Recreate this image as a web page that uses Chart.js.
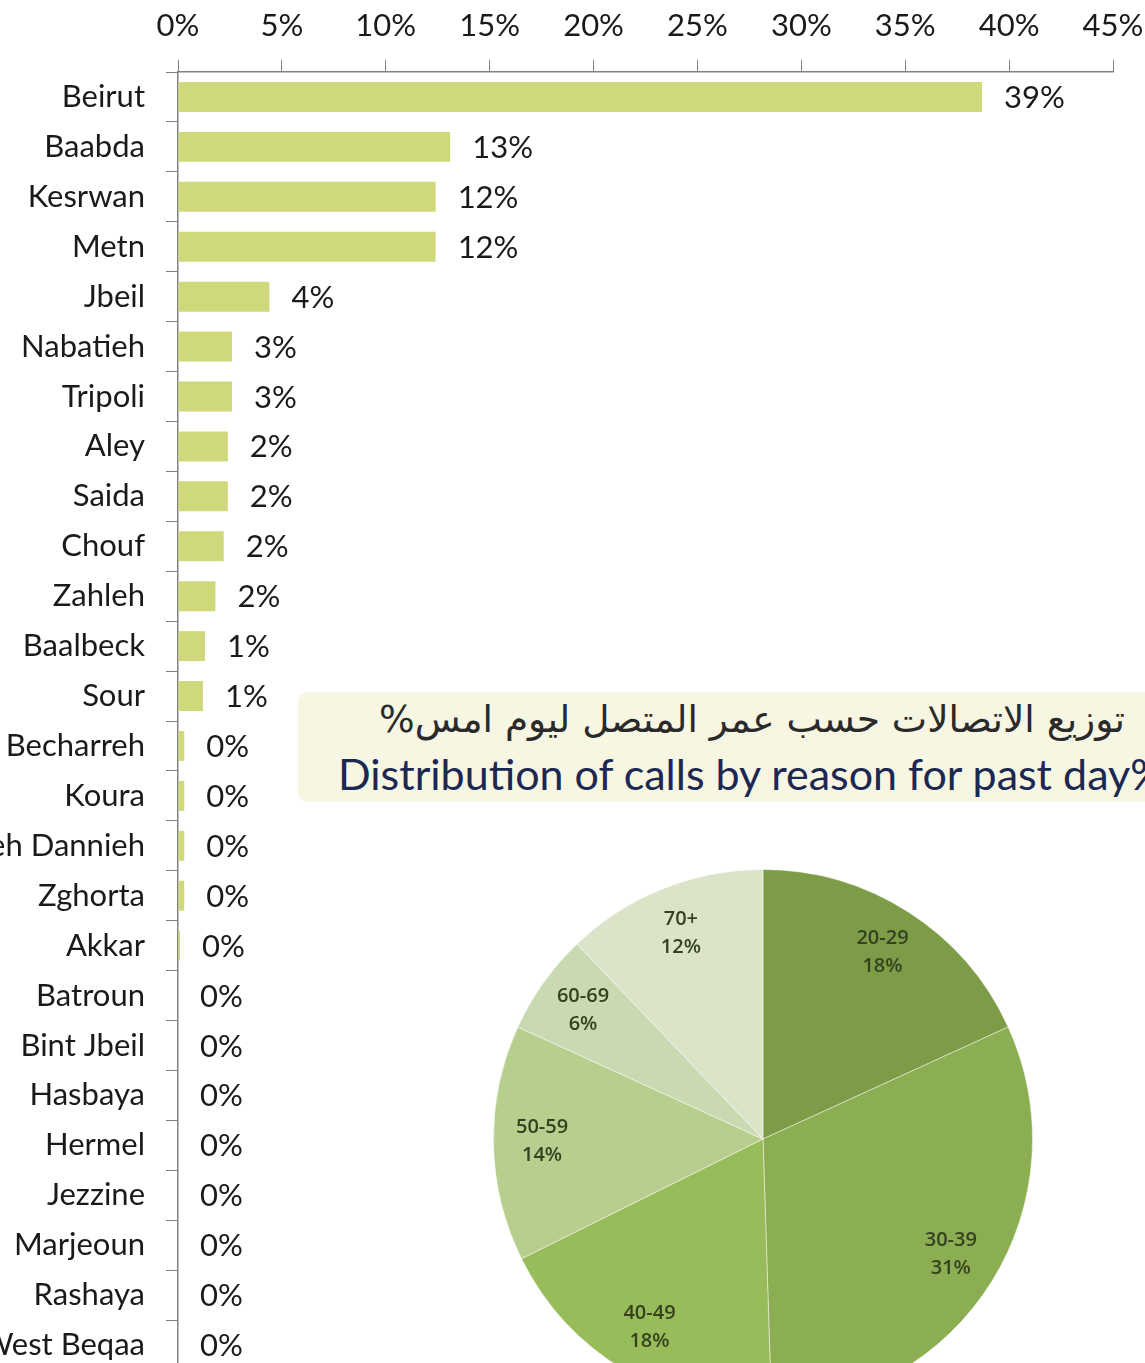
<!DOCTYPE html>
<html>
<head>
<meta charset="utf-8">
<style>
  html, body { margin: 0; padding: 0; background: #fff; overflow: hidden; width: 1145px; height: 1363px; }
  #chartkadaa { position: absolute; left: 0; top: 0; }
  #chartumur { position: absolute; left: 483px; top: 859px; }
  .judul { position: absolute; left: 298px; top: 692px; width: 900px; height: 110px; background: #f6f6e3; border-radius: 10px; }
  .judul .ar { position: absolute; right: 73px; top: 5px; font-family: "DejaVu Sans", sans-serif; font-size: 37.5px; color: #2a2a2a; white-space: nowrap; }
  .judul .en { position: absolute; left: 40px; top: 56px; font-family: Lato, sans-serif; font-size: 43px; color: #1c2852; white-space: nowrap; }
</style>
</head>
<body>
<canvas id="chartkadaa" width="1145" height="1370"></canvas>
<div class="judul">
  <div class="ar" dir="rtl">توزيع الاتصالات حسب عمر المتصل ليوم امس%</div>
  <div class="en">Distribution of calls by reason for past day%</div>
</div>
<canvas id="chartumur" width="560" height="560"></canvas>

<script src="https://cdn.jsdelivr.net/npm/chart.js"></script>
<script>
  var kadaa = ["Beirut", "Baabda", "Kesrwan", "Metn", "Jbeil", "Nabatieh", "Tripoli", "Aley", "Saida", "Chouf", "Zahleh", "Baalbeck", "Sour", "Becharreh", "Koura", "Minieh Dannieh", "Zghorta", "Akkar", "Batroun", "Bint Jbeil", "Hasbaya", "Hermel", "Jezzine", "Marjeoun", "Rashaya", "West Beqaa"];
  var persen = [38.7, 13.1, 12.4, 12.4, 4.4, 2.6, 2.6, 2.4, 2.4, 2.2, 1.8, 1.3, 1.2, 0.3, 0.3, 0.3, 0.3, 0.1, 0, 0, 0, 0, 0, 0, 0, 0];
  var umur = ["20-29", "30-39", "40-49", "50-59", "60-69", "70+"];
  var umurPersen = [18, 31, 18, 14, 6, 12];
  var warnaUmur = ["#7c9c47", "#8cae52", "#99bc5b", "#b6cf8e", "#c9d9b1", "#dbe4c9"];

  var hurufGill = "Lato, 'Open Sans', sans-serif";

  // label angka di ujung bar
  var labelBar = {
    id: "labelBar",
    afterDatasetsDraw: function (chart) {
      var ctx = chart.ctx;
      var meta = chart.getDatasetMeta(0);
      ctx.save();
      ctx.font = "31px " + hurufGill;
      ctx.fillStyle = "#1a1a1a";
      ctx.textBaseline = "middle";
      ctx.textAlign = "left";
      meta.data.forEach(function (bar, i) {
        ctx.fillText(Math.round(persen[i]) + "%", bar.x + 22, bar.y + 1);
      });
      ctx.restore();
    },
  };

  new Chart(document.getElementById("chartkadaa").getContext("2d"), {
    type: "bar",
    data: {
      labels: kadaa,
      datasets: [
        {
          data: persen,
          backgroundColor: "#cfd97b",
          barPercentage: 0.6,
          categoryPercentage: 1,
        },
      ],
    },
    options: {
      indexAxis: "y",
      responsive: false,
      animation: false,
      layout: { padding: { top: 0, right: 32, bottom: 0, left: 0 } },
      plugins: { legend: { display: false }, tooltip: { enabled: false } },
      scales: {
        x: {
          position: "top",
          min: 0,
          max: 45,
          afterFit: function (scale) {
            scale.height = 72;
            scale.paddingLeft = 0;
            scale.paddingRight = 0;
          },
          ticks: {
            stepSize: 5,
            padding: 15,
            color: "#1a1a1a",
            font: { family: hurufGill, size: 31 },
            callback: function (v) {
              return v + "%";
            },
          },
          grid: { drawOnChartArea: false, tickLength: 12, color: "#808080" },
          border: { color: "#808080", width: 1.5 },
        },
        y: {
          afterFit: function (scale) {
            scale.width = 178;
            scale.paddingTop = 0;
            scale.paddingBottom = 0;
          },
          ticks: {
            padding: 21,
            color: "#1a1a1a",
            font: { family: hurufGill, size: 31 },
          },
          grid: { drawOnChartArea: false, offset: true, tickLength: 12, color: "#808080" },
          border: { color: "#808080", width: 1.5 },
        },
      },
    },
    plugins: [labelBar],
  });

  // label di dalam irisan pie
  var labelPie = {
    id: "labelPie",
    afterDatasetsDraw: function (chart) {
      var ctx = chart.ctx;
      var meta = chart.getDatasetMeta(0);
      ctx.save();
      ctx.font = "600 20px 'Open Sans', sans-serif";
      ctx.fillStyle = "#34421f";
      ctx.textAlign = "center";
      ctx.textBaseline = "middle";
      meta.data.forEach(function (arc, i) {
        var p = arc.getProps(["x", "y", "startAngle", "endAngle", "outerRadius"], true);
        var tengah = (p.startAngle + p.endAngle) / 2;
        var cx = p.x + Math.cos(tengah) * p.outerRadius * 0.82;
        var cy = p.y + Math.sin(tengah) * p.outerRadius * 0.82;
        ctx.fillText(umur[i], cx, cy - 15);
        ctx.fillText(umurPersen[i] + "%", cx, cy + 13);
      });
      ctx.restore();
    },
  };

  new Chart(document.getElementById("chartumur").getContext("2d"), {
    type: "pie",
    data: {
      labels: umur,
      datasets: [
        {
          data: umurPersen,
          backgroundColor: warnaUmur,
          borderColor: "rgba(255,255,255,0.45)",
          borderWidth: 1,
        },
      ],
    },
    options: {
      responsive: false,
      animation: false,
      layout: { padding: 10 },
      plugins: { legend: { display: false }, tooltip: { enabled: false } },
    },
    plugins: [labelPie],
  });
</script>
</body>
</html>
